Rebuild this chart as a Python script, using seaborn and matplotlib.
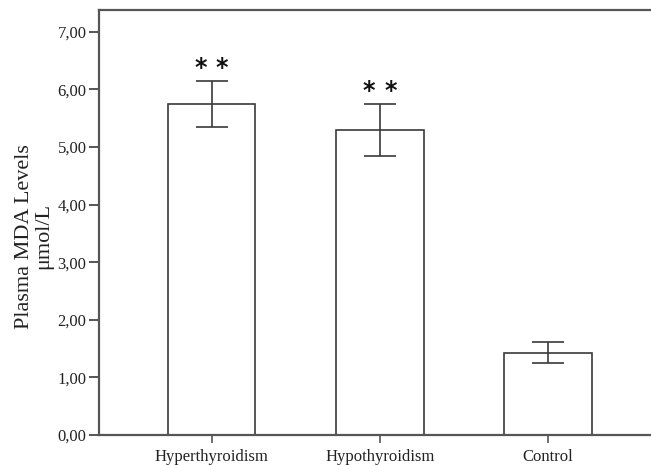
import matplotlib
matplotlib.use("Agg")
import matplotlib.pyplot as plt
import seaborn as sns
import pandas as pd

groups = ["Hyperthyroidism", "Hypothyroidism", "Control"]
means = [5.74, 5.29, 1.43]
err_low = [5.34, 4.85, 1.25]
err_high = [6.15, 5.75, 1.61]
stars = ["*", "*", ""]
yticks = [0, 1, 2, 3, 4, 5, 6, 7]
ytick_labels = ["0,00", "1,00", "2,00", "3,00", "4,00", "5,00", "6,00", "7,00"]

sns.set_theme(style="white")
plt.rcParams["font.family"] = ["Liberation Serif", "DejaVu Serif"]

df = pd.DataFrame({"group": groups, "mean": means})

fig = plt.figure(figsize=(6.51, 4.65), dpi=100)
ax = fig.add_axes([99 / 651, 30 / 465, 552 / 651, 425 / 465])

edge = "#3a3a3a"
sns.barplot(data=df, x="group", y="mean", order=groups, color="white",
            edgecolor=edge, linewidth=1.2, width=0.52, errorbar=None, ax=ax)
for p in ax.patches:
    p.set_facecolor("white")

xs = list(range(len(groups)))
lower = [m - lo for m, lo in zip(means, err_low)]
upper = [hi - m for m, hi in zip(means, err_high)]
ax.errorbar(xs, means, yerr=[lower, upper], fmt="none", ecolor=edge,
            elinewidth=1.2, capsize=11.5, capthick=1.2, zorder=5)

for x, hi, s in zip(xs, err_high, stars):
    if s:
        for dx in (-0.063, 0.063):
            ax.text(x + dx, hi + 0.22, s, ha="center", va="center",
                    fontsize=17, fontweight="bold", family="DejaVu Sans",
                    color="#111111")

ax.set_xlim(-0.669, 2.612)
ax.set_ylim(0, 7.38)
ax.set_yticks(yticks)
ax.set_yticklabels(ytick_labels)
ax.set_xlabel("")
ax.set_ylabel("Plasma MDA Levels\nμmol/L", fontsize=16, color="#222222",
              linespacing=1.05)
ax.yaxis.set_label_coords(-0.082, 0.468)

for side in ["left", "bottom", "top"]:
    ax.spines[side].set_visible(True)
    ax.spines[side].set_color("#555555")
    ax.spines[side].set_linewidth(1.6)
ax.spines["right"].set_visible(False)

ax.tick_params(axis="y", which="major", left=True, length=7, width=1.4,
               color="#555555", labelsize=12, labelcolor="#222222", pad=2)
ax.tick_params(axis="x", which="major", bottom=True, length=6, width=1.2,
               color="#555555", labelsize=12, labelcolor="#222222", pad=4)

fig.savefig("out.png", dpi=100)
